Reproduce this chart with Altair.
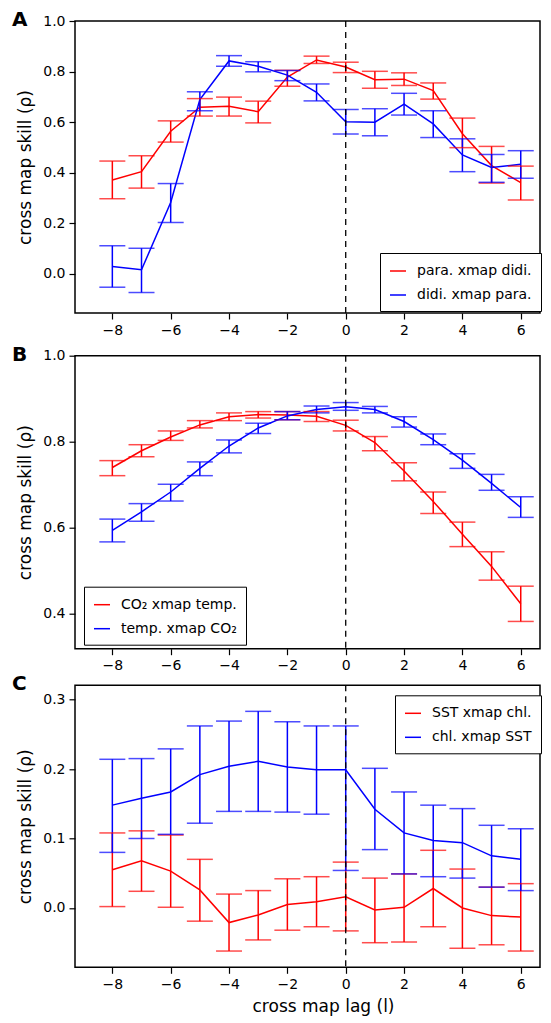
import altair as alt
import pandas as pd

lags = list(range(-8, 7))

# Panel A
a_names = ["para. xmap didi.", "didi. xmap para."]
a_red_mean = [0.371, 0.404, 0.564, 0.659, 0.663, 0.641, 0.778, 0.846, 0.818, 0.768, 0.770, 0.725, 0.554, 0.428, 0.361]
a_red_hi = [0.446, 0.467, 0.605, 0.693, 0.699, 0.683, 0.805, 0.861, 0.837, 0.801, 0.795, 0.755, 0.616, 0.504, 0.426]
a_red_lo = [0.297, 0.339, 0.521, 0.624, 0.624, 0.597, 0.742, 0.832, 0.796, 0.734, 0.745, 0.691, 0.499, 0.359, 0.292]
a_blue_mean = [0.029, 0.016, 0.282, 0.689, 0.842, 0.821, 0.786, 0.718, 0.601, 0.600, 0.671, 0.593, 0.470, 0.421, 0.433]
a_blue_hi = [0.111, 0.101, 0.357, 0.720, 0.863, 0.839, 0.804, 0.751, 0.650, 0.653, 0.714, 0.645, 0.534, 0.472, 0.487]
a_blue_lo = [-0.053, -0.074, 0.203, 0.645, 0.821, 0.799, 0.764, 0.684, 0.553, 0.546, 0.628, 0.539, 0.404, 0.362, 0.378]

# Panel B
b_names = ["CO\u2082 xmap temp.", "temp. xmap CO\u2082"]
b_red_mean = [0.740, 0.779, 0.811, 0.839, 0.858, 0.863, 0.862, 0.859, 0.838, 0.798, 0.732, 0.661, 0.585, 0.510, 0.423]
b_red_hi = [0.756, 0.793, 0.825, 0.849, 0.867, 0.870, 0.870, 0.870, 0.850, 0.812, 0.751, 0.683, 0.613, 0.544, 0.464]
b_red_lo = [0.721, 0.765, 0.803, 0.832, 0.849, 0.855, 0.851, 0.847, 0.825, 0.779, 0.709, 0.633, 0.556, 0.478, 0.382]
b_blue_mean = [0.594, 0.637, 0.683, 0.738, 0.790, 0.832, 0.860, 0.875, 0.881, 0.875, 0.847, 0.805, 0.757, 0.703, 0.647]
b_blue_hi = [0.620, 0.656, 0.701, 0.753, 0.804, 0.843, 0.870, 0.883, 0.891, 0.882, 0.858, 0.818, 0.772, 0.724, 0.672]
b_blue_lo = [0.567, 0.615, 0.662, 0.721, 0.774, 0.819, 0.851, 0.867, 0.873, 0.867, 0.834, 0.793, 0.738, 0.687, 0.624]

# Panel C
c_names = ["SST xmap chl.", "chl. xmap SST"]
c_red_mean = [0.055, 0.068, 0.053, 0.026, -0.021, -0.010, 0.005, 0.009, 0.016, -0.003, 0.001, 0.028, 0.000, -0.011, -0.013]
c_red_hi = [0.108, 0.111, 0.105, 0.070, 0.020, 0.025, 0.042, 0.045, 0.066, 0.043, 0.049, 0.083, 0.056, 0.030, 0.035]
c_red_lo = [0.002, 0.024, 0.001, -0.019, -0.062, -0.046, -0.032, -0.027, -0.033, -0.050, -0.049, -0.027, -0.058, -0.053, -0.062]
c_blue_mean = [0.148, 0.158, 0.167, 0.192, 0.204, 0.211, 0.203, 0.199, 0.199, 0.142, 0.108, 0.097, 0.094, 0.075, 0.070]
c_blue_hi = [0.214, 0.215, 0.229, 0.262, 0.269, 0.283, 0.268, 0.262, 0.262, 0.201, 0.167, 0.148, 0.143, 0.119, 0.114]
c_blue_lo = [0.080, 0.100, 0.106, 0.122, 0.139, 0.139, 0.138, 0.135, 0.054, 0.084, 0.049, 0.045, 0.043, 0.030, 0.025]

x_ticks = [-8, -6, -4, -2, 0, 2, 4, 6]
FONT = "DejaVu Sans"
W = 465


def frame(names, red, blue):
    rows = []
    for name, (m, hi, lo) in zip(names, [red, blue]):
        for l, mm, h, lw in zip(lags, m, hi, lo):
            rows.append({"lag": l, "series": name, "mean": mm, "hi": h, "lo": lw})
    return pd.DataFrame(rows)


def panel(letter, names, red, blue, ydom, yticks, height, xtitle, lx, ly):
    df = frame(names, red, blue)
    xenc = alt.X("lag:Q", scale=alt.Scale(domain=[-9.28, 6.66], nice=False, zero=False),
                 axis=alt.Axis(values=x_ticks, format="d", title=xtitle, titleX=248,
                               titlePadding=7))
    yscale = alt.Scale(domain=ydom, nice=False, zero=False)
    yaxis = alt.Axis(values=yticks, format=".1f", title="cross map skill (\u03c1)",
                     titlePadding=8)
    cscale = alt.Scale(domain=names, range=["#ff0000", "#0000ff"])
    base = alt.Chart(df)
    line = base.mark_line(strokeWidth=1.5).encode(
        x=xenc,
        y=alt.Y("mean:Q", scale=yscale, axis=yaxis),
        color=alt.Color("series:N", scale=cscale, sort=names, title="",
                        legend=alt.Legend(orient="none", legendX=lx, legendY=ly,
                                          strokeColor="black", fillColor="white",
                                          padding=9, symbolType="stroke", symbolSize=256,
                                          symbolStrokeWidth=1.5, labelFontSize=14,
                                          labelFont=FONT, labelOffset=10, rowPadding=8,
                                          labelColor="black")),
        order="lag:Q",
    )
    rule = base.mark_rule(strokeWidth=1.5).encode(
        x=xenc, y=alt.Y("lo:Q", scale=yscale), y2="hi:Q",
        color=alt.Color("series:N", scale=cscale, legend=None),
    )
    cap_hi = base.mark_tick(orient="horizontal", size=26, thickness=1.5).encode(
        x=xenc, y=alt.Y("hi:Q", scale=yscale),
        color=alt.Color("series:N", scale=cscale, legend=None),
    )
    cap_lo = base.mark_tick(orient="horizontal", size=26, thickness=1.5).encode(
        x=xenc, y=alt.Y("lo:Q", scale=yscale),
        color=alt.Color("series:N", scale=cscale, legend=None),
    )
    zero = alt.Chart(pd.DataFrame({"z": [0]})).mark_rule(
        color="black", strokeWidth=1.3, strokeDash=[6, 5]).encode(x=alt.X("z:Q"))
    lab = alt.Chart(pd.DataFrame({"t": [letter]})).mark_text(
        font=FONT, fontSize=20, fontWeight="bold", align="left", baseline="alphabetic",
        color="black").encode(text="t:N", x=alt.value(-63), y=alt.value(5))
    return alt.layer(line, rule, cap_hi, cap_lo, zero, lab).properties(width=W, height=height)


pA = panel("A", a_names, (a_red_mean, a_red_hi, a_red_lo), (a_blue_mean, a_blue_hi, a_blue_lo),
           [-0.155, 1.0], [0.0, 0.2, 0.4, 0.6, 0.8, 1.0], 292, "", 305, 232)
pB = panel("B", b_names, (b_red_mean, b_red_hi, b_red_lo), (b_blue_mean, b_blue_hi, b_blue_lo),
           [0.3186, 1.0], [0.4, 0.6, 0.8, 1.0], 293, "", 9, 231)
pC = panel("C", c_names, (c_red_mean, c_red_hi, c_red_lo), (c_blue_mean, c_blue_hi, c_blue_lo),
           [-0.0854, 0.3205], [0.0, 0.1, 0.2, 0.3], 282, "cross map lag (l)", 320, 10)

top = alt.vconcat(pA, pB, spacing=5.7).resolve_scale(
    color="independent", x="independent", y="independent"
).resolve_legend(color="independent")

chart = alt.vconcat(top, pC, spacing=-0.7).resolve_scale(
    color="independent", x="independent", y="independent"
).resolve_legend(color="independent").properties(
    padding={"left": 3, "top": 1, "right": 0, "bottom": 0}, background="white"
).configure_view(stroke="black", strokeWidth=1.5).configure_axis(
    grid=False, domain=False, tickColor="black", tickWidth=1.2, tickSize=6,
    labelFont=FONT, labelFontSize=14, labelColor="black", labelPadding=4,
    titleFont=FONT, titleFontSize=17, titleFontWeight="normal", titleColor="black",
)

chart.save("out.html", embed_options={"renderer": "svg", "actions": False})
